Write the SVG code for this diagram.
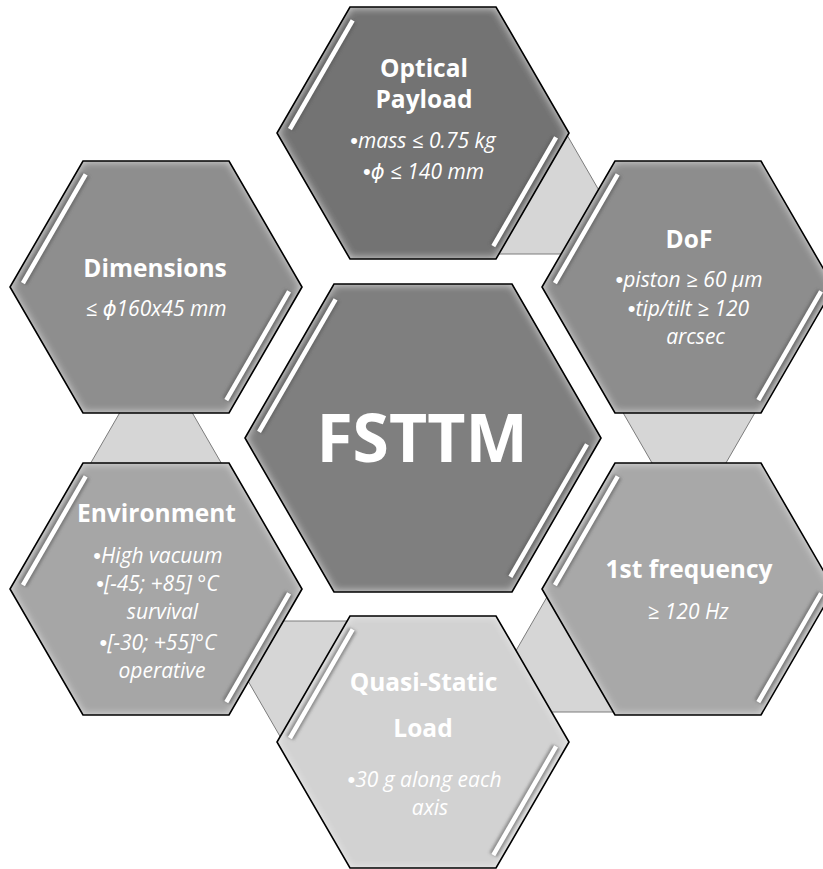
<svg xmlns="http://www.w3.org/2000/svg" width="823" height="869" viewBox="0 0 823 869">
<defs>
<filter id="glow" x="-5%" y="-5%" width="110%" height="110%">
<feGaussianBlur in="SourceAlpha" stdDeviation="4" result="b"/>
<feComposite in="SourceAlpha" in2="b" operator="arithmetic" k2="1" k3="-1" result="e"/>
<feFlood flood-color="#ffffff" flood-opacity="0.6"/>
<feComposite in2="e" operator="in" result="g"/>
<feMerge><feMergeNode in="SourceGraphic"/><feMergeNode in="g"/></feMerge>
</filter>
<filter id="soft" x="-20%" y="-20%" width="140%" height="140%">
<feGaussianBlur stdDeviation="1.6"/>
</filter>
</defs>
<style>
.conn{fill:#d6d6d6;stroke:#7c7c7c;stroke-width:1}
.hexf{filter:url(#glow);stroke:none}
.hexs{fill:none;stroke:#000;stroke-width:1.6;stroke-linejoin:miter}
.sh{stroke:#555;stroke-opacity:0.55;stroke-width:9;filter:url(#soft)}
.hl{stroke:#fff;stroke-width:4.5}
.hd{font-family:"Open Sans","DejaVu Sans",sans-serif;font-weight:bold;font-size:24.5px;fill:#fff;text-anchor:middle}
.bd{font-family:"Open Sans","DejaVu Sans",sans-serif;font-style:italic;font-size:21px;fill:#fff;text-anchor:middle}
.bu{font-family:"Liberation Sans",sans-serif;font-style:normal;font-size:22px}
.big{font-family:"Open Sans","DejaVu Sans",sans-serif;font-weight:bold;font-size:66px;fill:#fff;text-anchor:middle}
</style>
<rect width="823" height="869" fill="#fff"/>
<g id="connectors">
<polygon class="conn" points="567,135 635.7,254 498.3,254"/>
<polygon class="conn" points="618.6,405 759.4,405 689,527"/>
<polygon class="conn" points="551,590 621.4,712 480.6,712"/>
<polygon class="conn" points="213.4,621 356.6,621 285,745"/>
<polygon class="conn" points="156,350 225.3,470 86.7,470"/>
</g>
<g id="optical-payload">
<polygon class="hexf" fill="#737373" points="569,133 496,259 350,259 277,133 350,7 496,7"/>
<polygon class="hexs" points="569,133 496,259 350,259 277,133 350,7 496,7"/>
<line class="sh" x1="352.7" y1="20.4" x2="289.9" y2="129.1"/><line class="hl" x1="352.7" y1="20.4" x2="289.9" y2="129.1"/>
<line class="sh" x1="556.1" y1="137.4" x2="493.3" y2="246.1"/><line class="hl" x1="556.1" y1="137.4" x2="493.3" y2="246.1"/>
<text class="hd" x="424" y="77">Optical</text>
<text class="hd" x="424" y="108">Payload</text>
<text class="bd" x="423" y="148"><tspan class="bu">•</tspan>mass ≤ 0.75 kg</text>
<text class="bd" x="423.5" y="179"><tspan class="bu">•</tspan>ϕ ≤ 140 mm</text>
</g>
<g id="dof">
<polygon class="hexf" fill="#8d8d8d" points="834,287 761,413 615,413 542,287 615,161 761,161"/>
<polygon class="hexs" points="834,287 761,413 615,413 542,287 615,161 761,161"/>
<line class="sh" x1="617.7" y1="174.4" x2="554.9" y2="283.1"/><line class="hl" x1="617.7" y1="174.4" x2="554.9" y2="283.1"/>
<line class="sh" x1="821.1" y1="291.4" x2="758.3" y2="400.1"/><line class="hl" x1="821.1" y1="291.4" x2="758.3" y2="400.1"/>
<text class="hd" x="689" y="248">DoF</text>
<text class="bd" x="689" y="287"><tspan class="bu">•</tspan>piston ≥ 60 μm</text>
<text class="bd" x="688.5" y="316"><tspan class="bu">•</tspan>tip/tilt ≥ 120</text>
<text class="bd" x="695.5" y="344">arcsec</text>
</g>
<g id="first-frequency">
<polygon class="hexf" fill="#a8a8a8" points="834,589 761,715 615,715 542,589 615,463 761,463"/>
<polygon class="hexs" points="834,589 761,715 615,715 542,589 615,463 761,463"/>
<line class="sh" x1="617.7" y1="476.4" x2="554.9" y2="585.1"/><line class="hl" x1="617.7" y1="476.4" x2="554.9" y2="585.1"/>
<line class="sh" x1="821.1" y1="593.4" x2="758.3" y2="702.1"/><line class="hl" x1="821.1" y1="593.4" x2="758.3" y2="702.1"/>
<text class="hd" x="689" y="578">1st frequency</text>
<text class="bd" x="688" y="619">≥ 120 Hz</text>
</g>
<g id="quasi-static-load">
<polygon class="hexf" fill="#d2d2d2" points="569,742 496,868 350,868 277,742 350,616 496,616"/>
<polygon class="hexs" points="569,742 496,868 350,868 277,742 350,616 496,616"/>
<line class="sh" x1="352.7" y1="629.4" x2="289.9" y2="738.1"/><line class="hl" x1="352.7" y1="629.4" x2="289.9" y2="738.1"/>
<line class="sh" x1="556.1" y1="746.4" x2="493.3" y2="855.1"/><line class="hl" x1="556.1" y1="746.4" x2="493.3" y2="855.1"/>
<text class="hd" x="423.5" y="691">Quasi-Static</text>
<text class="hd" x="423" y="737">Load</text>
<text class="bd" x="424.5" y="787"><tspan class="bu">•</tspan>30 g along each</text>
<text class="bd" x="430" y="815">axis</text>
</g>
<g id="environment">
<polygon class="hexf" fill="#a6a6a6" points="302,589 229,715 83,715 10,589 83,463 229,463"/>
<polygon class="hexs" points="302,589 229,715 83,715 10,589 83,463 229,463"/>
<line class="sh" x1="85.7" y1="476.4" x2="22.9" y2="585.1"/><line class="hl" x1="85.7" y1="476.4" x2="22.9" y2="585.1"/>
<line class="sh" x1="289.1" y1="593.4" x2="226.3" y2="702.1"/><line class="hl" x1="289.1" y1="593.4" x2="226.3" y2="702.1"/>
<text class="hd" x="156.5" y="522">Environment</text>
<text class="bd" x="158" y="563"><tspan class="bu">•</tspan>High vacuum</text>
<text class="bd" x="157.5" y="591"><tspan class="bu">•</tspan>[-45; +85] °C</text>
<text class="bd" x="162.5" y="619">survival</text>
<text class="bd" x="158" y="650"><tspan class="bu">•</tspan>[-30; +55]°C</text>
<text class="bd" x="162" y="678">operative</text>
</g>
<g id="dimensions">
<polygon class="hexf" fill="#8e8e8e" points="302,287 229,413 83,413 10,287 83,161 229,161"/>
<polygon class="hexs" points="302,287 229,413 83,413 10,287 83,161 229,161"/>
<line class="sh" x1="85.7" y1="174.4" x2="22.9" y2="283.1"/><line class="hl" x1="85.7" y1="174.4" x2="22.9" y2="283.1"/>
<line class="sh" x1="289.1" y1="291.4" x2="226.3" y2="400.1"/><line class="hl" x1="289.1" y1="291.4" x2="226.3" y2="400.1"/>
<text class="hd" x="155" y="277">Dimensions</text>
<text class="bd" x="156" y="316">≤ ϕ160x45 mm</text>
</g>
<g id="fsttm">
<polygon class="hexf" fill="#7f7f7f" points="601,438 512,592 334,592 245,438 334,284 512,284"/>
<polygon class="hexs" points="601,438 512,592 334,592 245,438 334,284 512,284"/>
<line class="sh" x1="335.6" y1="299.3" x2="259" y2="431.8"/><line class="hl" x1="335.6" y1="299.3" x2="259" y2="431.8"/>
<line class="sh" x1="587" y1="444.3" x2="510.4" y2="576.8"/><line class="hl" x1="587" y1="444.3" x2="510.4" y2="576.8"/>
<text class="big" x="422" y="462">FSTTM</text>
</g>
</svg>
